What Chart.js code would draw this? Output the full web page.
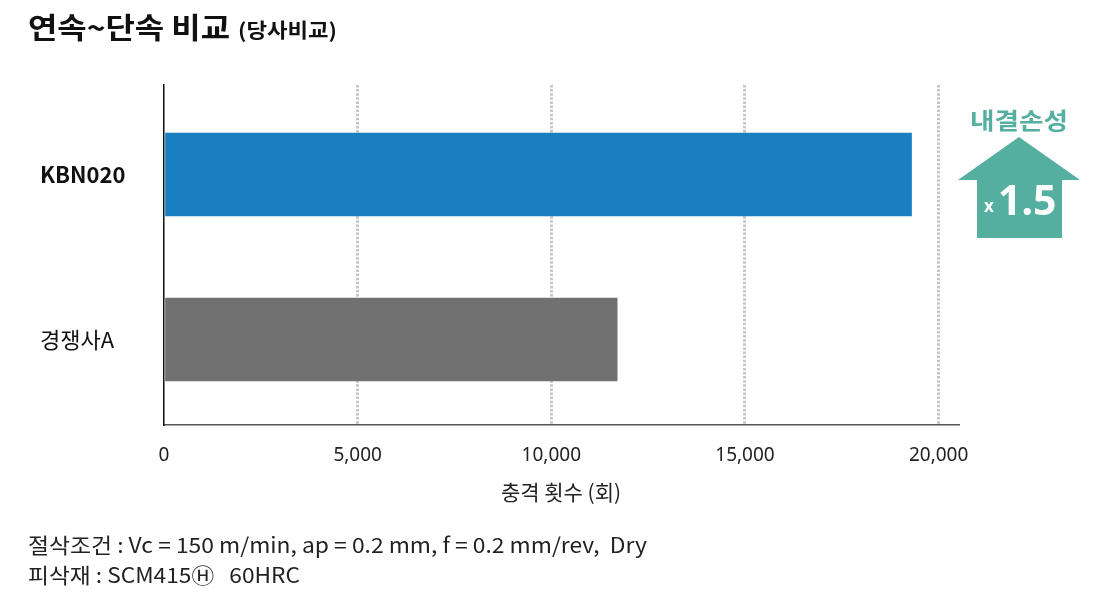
<!DOCTYPE html>
<html>
<head>
<meta charset="utf-8">
<script src="https://cdn.jsdelivr.net/npm/chart.js@4.4.1/dist/chart.umd.min.js"></script>
<style>
  html, body { margin: 0; padding: 0; background: #fff; }
  #wrap { position: relative; width: 1100px; height: 600px; overflow: hidden; font-family: "Noto Sans CJK KR", "Noto Sans", sans-serif; color: #111; }
  canvas { position: absolute; left: 0; top: 0; }
  .txt { position: absolute; white-space: pre; transform-origin: 0 0; }
  #title1 { left: 28px; top: 12px; font-size: 29px; font-weight: 700; line-height: 1; }
  #title2 { left: 238px; top: 20px; font-size: 20px; font-weight: 700; line-height: 1; }
  #note1 { left: 28px; top: 534px; font-size: 21px; line-height: 1; color: #222; }
  #note2 { left: 28px; top: 564px; font-size: 21px; line-height: 1; color: #222; }
  #badge { position: absolute; left: 950px; top: 100px; }
</style>
</head>
<body>
<div id="wrap">
  <canvas id="c" width="1100" height="600"></canvas>
  <div class="txt" id="title1">연속~단속 비교</div>
  <div class="txt" id="title2">(당사비교)</div>
  <div class="txt" id="note1">절삭조건 : Vc = 150 m/min, ap = 0.2 mm, f = 0.2 mm/rev,  Dry</div>
  <div class="txt" id="note2">피삭재 : SCM415Ⓗ   60HRC</div>
  <svg id="badge" width="140" height="150" viewBox="950 100 140 150">
    <text x="970" y="129" textLength="98" lengthAdjust="spacingAndGlyphs" font-family="Noto Sans CJK KR, sans-serif" font-weight="700" font-size="23" fill="#55afa0">내결손성</text>
    <polygon points="1019,137 1080,180 1062,180 1062,238 977,238 977,180 958,180" fill="#55afa0"/>
    <text x="984" y="212" font-family="Noto Sans, sans-serif" font-weight="700" font-size="17" fill="#fff">x</text>
    <text x="998" y="215" font-family="Noto Sans, sans-serif" font-weight="700" font-size="41" fill="#fff">1.5</text>
  </svg>
</div>
<script>
const categories = ["KBN020", "경쟁사A"];
const impactCounts = [19300, 11700];
const barColors = ["#1a7fc1", "#727171"];
const xTickValues = [0, 5000, 10000, 15000, 20000];
const xMax = 20500;
const xTitle = "충격 횟수 (회)";

function fitWidth(id, target) {
  const el = document.getElementById(id);
  const w = el.getBoundingClientRect().width;
  el.style.transform = 'scaleX(' + (target / w) + ')';
}

const points = categories.map((c, i) => ({ x: impactCounts[i], y: i }));

new Chart(document.getElementById('c'), {
  type: 'bar',
  data: {
    datasets: [{
      data: points,
      backgroundColor: barColors,
      borderWidth: 0,
      barThickness: 83
    }]
  },
  options: {
    indexAxis: 'y',
    responsive: false,
    animation: false,
    devicePixelRatio: 1,
    layout: { padding: { left: 40, right: 142, top: 85, bottom: 75 } },
    plugins: { legend: { display: false }, tooltip: { enabled: false } },
    scales: {
      x: {
        type: 'linear',
        min: 0,
        max: xMax,
        afterFit: s => { s.height = 100; },
        afterBuildTicks: s => { s.ticks = xTickValues.map(v => ({ value: v })); },
        grid: {
          drawTicks: false,
          color: ctx => (ctx.tick && ctx.tick.value === 0) ? 'rgba(0,0,0,0)' : '#c6c6c6',
          lineWidth: 3
        },
        border: { display: true, color: '#555', width: 1.5, dash: [2.5, 1.6] },
        ticks: {
          padding: 19,
          color: '#222',
          font: { family: 'Noto Sans', size: 19 },
          callback: v => v.toLocaleString('en-US'),
          maxRotation: 0
        },
        title: {
          display: true,
          text: xTitle,
          color: '#222',
          font: { family: 'Noto Sans CJK KR', size: 21 },
          padding: { top: 0, bottom: 20 }
        }
      },
      y: {
        type: 'linear',
        reverse: true,
        offset: false,
        grace: 0,
        min: -0.542,
        max: 1.518,
        afterFit: s => { s.width = 124; },
        afterBuildTicks: s => { s.ticks = categories.map((c, i) => ({ value: i })); },
        grid: { display: false, drawTicks: false, offset: false },
        border: { display: true, color: '#111', width: 1.5 },
        ticks: {
          crossAlign: 'far',
          color: '#111',
          callback: v => categories[v],
          font: ctx => ({ family: 'Noto Sans CJK KR', size: 22, weight: ctx.index === 0 ? 'bold' : 'normal' })
        }
      }
    }
  }
});

fitWidth('title1', 202);
fitWidth('title2', 99);
fitWidth('note1', 619);
fitWidth('note2', 272);
</script>
</body>
</html>
